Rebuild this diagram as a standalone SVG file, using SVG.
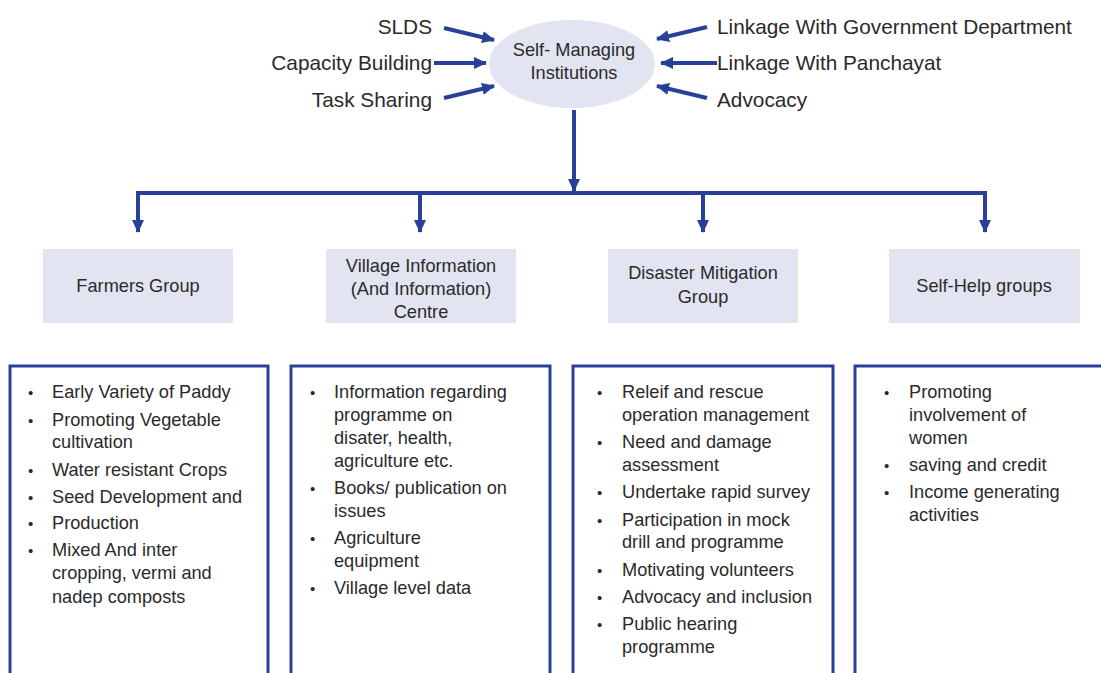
<svg xmlns="http://www.w3.org/2000/svg" width="1101" height="673" viewBox="0 0 1101 673">
<style>
.ln{stroke:#28409a;stroke-width:4;fill:none}
.top{font-family:"Liberation Sans",Arial,sans-serif;font-size:20.8px;fill:#2a2a2a}
.nd{fill:#e3e4f1}
.nt{font-family:"Liberation Sans",Arial,sans-serif;font-size:18.2px;fill:#2a2a2a;text-anchor:middle}
.bx{fill:none;stroke:#28409a;stroke-width:3}
.li{font-family:"Liberation Sans",Arial,sans-serif;font-size:18.2px;fill:#2a2a2a}
.bu{font-family:"Liberation Sans",Arial,sans-serif;font-size:15px;fill:#2a2a2a}
</style>
<defs>
<marker id="ah" markerUnits="userSpaceOnUse" markerWidth="14" markerHeight="14" viewBox="0 0 14 14" refX="12" refY="7" orient="auto">
<path d="M0,1 L13,7 L0,13 Z" fill="#28409a"/>
</marker>
</defs>
<rect width="1101" height="673" fill="#fff"/>
<g id="center">
<ellipse cx="572" cy="64" rx="83" ry="44" class="nd"/>
<text class="nt" x="574" y="56">Self- Managing</text>
<text class="nt" x="574" y="79">Institutions</text>
</g>
<g id="inputs" class="top">
<text x="432" y="34" text-anchor="end">SLDS</text>
<text x="432" y="70" text-anchor="end">Capacity Building</text>
<text x="432" y="107" text-anchor="end">Task Sharing</text>
<text x="717" y="34">Linkage With Government Department</text>
<text x="717" y="70">Linkage With Panchayat</text>
<text x="717" y="107">Advocacy</text>
</g>
<g id="connectors">
<line class="ln" x1="444" y1="28" x2="494" y2="40" marker-end="url(#ah)"/>
<line class="ln" x1="434" y1="63" x2="486" y2="63" marker-end="url(#ah)"/>
<line class="ln" x1="444" y1="98" x2="494" y2="86" marker-end="url(#ah)"/>
<line class="ln" x1="707" y1="27" x2="657" y2="39" marker-end="url(#ah)"/>
<line class="ln" x1="717" y1="63" x2="661" y2="63" marker-end="url(#ah)"/>
<line class="ln" x1="707" y1="98" x2="657" y2="86" marker-end="url(#ah)"/>
<line class="ln" x1="574" y1="110" x2="574" y2="191" marker-end="url(#ah)"/>
<polyline class="ln" points="138,232 138,193 985,193 985,232" marker-end="url(#ah)"/>
<line class="ln" x1="138" y1="195" x2="138" y2="232" marker-end="url(#ah)"/>
<line class="ln" x1="420" y1="193" x2="420" y2="232" marker-end="url(#ah)"/>
<line class="ln" x1="703" y1="193" x2="703" y2="232" marker-end="url(#ah)"/>
</g>
<g id="farmers">
<rect class="nd" x="43" y="249" width="190" height="74"/>
<text class="nt" x="138" y="292">Farmers Group</text>
</g>
<g id="village">
<rect class="nd" x="326" y="249" width="190" height="74"/>
<text class="nt" x="421" y="272">Village Information</text>
<text class="nt" x="421" y="295">(And Information)</text>
<text class="nt" x="421" y="318">Centre</text>
</g>
<g id="disaster">
<rect class="nd" x="608" y="249" width="190" height="74"/>
<text class="nt" x="703" y="279">Disaster Mitigation</text>
<text class="nt" x="703" y="303">Group</text>
</g>
<g id="shg">
<rect class="nd" x="889" y="249" width="191" height="74"/>
<text class="nt" x="984" y="292">Self-Help groups</text>
</g>
<g id="list-farmers">
<rect class="bx" x="10" y="366" width="258" height="320"/>
<g class="bu">
<text x="28" y="398">•</text><text x="28" y="426">•</text><text x="28" y="476">•</text><text x="28" y="503">•</text><text x="28" y="529">•</text><text x="28" y="556">•</text>
</g>
<g class="li">
<text x="52" y="398">Early Variety of Paddy</text>
<text x="52" y="426">Promoting Vegetable</text>
<text x="52" y="448">cultivation</text>
<text x="52" y="476">Water resistant Crops</text>
<text x="52" y="503">Seed Development and</text>
<text x="52" y="529">Production</text>
<text x="52" y="556">Mixed And inter</text>
<text x="52" y="579">cropping, vermi and</text>
<text x="52" y="603">nadep composts</text>
</g>
</g>
<g id="list-village">
<rect class="bx" x="291" y="366" width="259" height="320"/>
<g class="bu">
<text x="310" y="398">•</text><text x="310" y="494">•</text><text x="310" y="544">•</text><text x="310" y="594">•</text>
</g>
<g class="li">
<text x="334" y="398">Information regarding</text>
<text x="334" y="421">programme on</text>
<text x="334" y="444">disater, health,</text>
<text x="334" y="467">agriculture etc.</text>
<text x="334" y="494">Books/ publication on</text>
<text x="334" y="517">issues</text>
<text x="334" y="544">Agriculture</text>
<text x="334" y="567">equipment</text>
<text x="334" y="594">Village level data</text>
</g>
</g>
<g id="list-disaster">
<rect class="bx" x="573" y="366" width="260" height="320"/>
<g class="bu">
<text x="597" y="398">•</text><text x="597" y="448">•</text><text x="597" y="498">•</text><text x="597" y="526">•</text><text x="597" y="576">•</text><text x="597" y="603">•</text><text x="597" y="630">•</text>
</g>
<g class="li">
<text x="622" y="398">Releif and rescue</text>
<text x="622" y="421">operation management</text>
<text x="622" y="448">Need and damage</text>
<text x="622" y="471">assessment</text>
<text x="622" y="498">Undertake rapid survey</text>
<text x="622" y="526">Participation in mock</text>
<text x="622" y="548">drill and programme</text>
<text x="622" y="576">Motivating volunteers</text>
<text x="622" y="603">Advocacy and inclusion</text>
<text x="622" y="630">Public hearing</text>
<text x="622" y="653">programme</text>
</g>
</g>
<g id="list-shg">
<rect class="bx" x="855" y="366" width="260" height="320"/>
<g class="bu">
<text x="884" y="398">•</text><text x="884" y="471">•</text><text x="884" y="498">•</text>
</g>
<g class="li">
<text x="909" y="398">Promoting</text>
<text x="909" y="421">involvement of</text>
<text x="909" y="444">women</text>
<text x="909" y="471">saving and credit</text>
<text x="909" y="498">Income generating</text>
<text x="909" y="521">activities</text>
</g>
</g>
</svg>
